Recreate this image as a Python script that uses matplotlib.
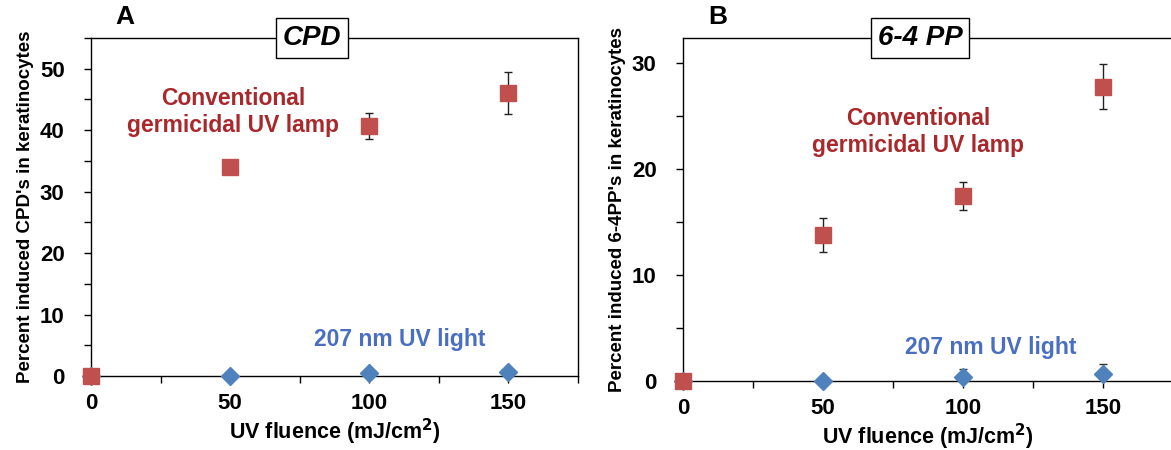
import matplotlib
matplotlib.use("Agg")
import matplotlib.pyplot as plt
from matplotlib.ticker import MultipleLocator

plt.rcParams['font.family'] = ['Liberation Sans', 'DejaVu Sans']
plt.rcParams['font.weight'] = 'bold'

fluence = [0, 50, 100, 150]

# panel A, CPD
cpd_lamp = [0, 34.0, 40.7, 46.0]
cpd_lamp_err = [0, 0, 2.1, 3.4]
cpd_207 = [0, 0.0, 0.5, 0.7]
cpd_207_err = [0, 0, 0, 0]

# panel B, 6-4 PP
pp_lamp = [0, 13.8, 17.5, 27.8]
pp_lamp_err = [0, 1.6, 1.3, 2.1]
pp_207 = [0, 0.0, 0.4, 0.7]
pp_207_err = [0, 0, 0.7, 0.9]

red = '#c0504d'
red_txt = '#a8282c'
blue = '#4f81bd'
blue_txt = '#4a6fc0'

fig = plt.figure(figsize=(11.71, 4.5), dpi=100)
axA = fig.add_axes([91/1171, 1-376/450, 487/1171, 338/450])
axB = fig.add_axes([683/1171, 1-381/450, 490/1171, 343/450])

panels = [
    (axA, cpd_lamp, cpd_lamp_err, cpd_207, cpd_207_err, 55, 10,
     "Percent induced CPD's in keratinocytes", 'CPD', 0.454, 'A',
     (51, 43), (111, 6)),
    (axB, pp_lamp, pp_lamp_err, pp_207, pp_207_err, 32.4, 10,
     "Percent induced 6-4PP's in keratinocytes", '6-4 PP', 0.484, 'B',
     (84, 23.5), (110, 3.2)),
]

for ax, lamp, lerr, uv, uerr, ytop, ymaj, ylab, ttl, tx, letter, lpos, upos in panels:
    e1 = ax.errorbar(fluence, uv, yerr=uerr, fmt='D', color=blue, ms=9,
                     ecolor='#333333', elinewidth=1, capsize=3, zorder=3)
    e2 = ax.errorbar(fluence, lamp, yerr=lerr, fmt='s', color=red, ms=12,
                     ecolor='#222222', elinewidth=1, capsize=3, zorder=4)
    for art in e1.lines[0:1] + e2.lines[0:1]:
        art.set_clip_on(False)
    ax.set_xlim(0, 175)
    ax.set_ylim(0, ytop)
    ax.set_xticks([0, 50, 100, 150])
    ax.xaxis.set_minor_locator(MultipleLocator(25))
    ax.yaxis.set_major_locator(MultipleLocator(ymaj))
    ax.yaxis.set_minor_locator(MultipleLocator(5))
    ax.tick_params(axis='both', which='both', direction='out', labelsize=16,
                   width=1, length=5)
    ax.tick_params(axis='x', which='major', pad=7)
    ax.tick_params(axis='y', which='major', pad=14)
    for lbl in ax.get_xticklabels() + ax.get_yticklabels():
        lbl.set_fontweight('bold')
    for sp in ax.spines.values():
        sp.set_linewidth(1)
    ax.set_xlabel('UV fluence (mJ/cm$^\\mathbf{2}$)', fontsize=15.5,
                  fontweight='bold', labelpad=2)
    ax.set_ylabel(ylab, fontsize=13.5, fontweight='bold', labelpad=4)
    ax.text(tx, 1.0, ttl, transform=ax.transAxes, ha='center', va='center',
            fontsize=20, fontweight='bold', fontstyle='italic',
            bbox=dict(boxstyle='square,pad=0.25', fc='white', ec='black', lw=1),
            zorder=10, clip_on=False)
    ax.text(0.07, 1.0 + 21/343, letter, transform=ax.transAxes, ha='center',
            va='center', fontsize=19, fontweight='bold')
    ax.text(lpos[0], lpos[1], 'Conventional\ngermicidal UV lamp', color=red_txt,
            ha='center', va='center', fontsize=16.5, fontweight='bold',
            linespacing=1.2)
    ax.text(upos[0], upos[1], '207 nm UV light', color=blue_txt,
            ha='center', va='center', fontsize=16.5, fontweight='bold')

axB.spines['right'].set_visible(False)

fig.savefig('out.png', dpi=100)
